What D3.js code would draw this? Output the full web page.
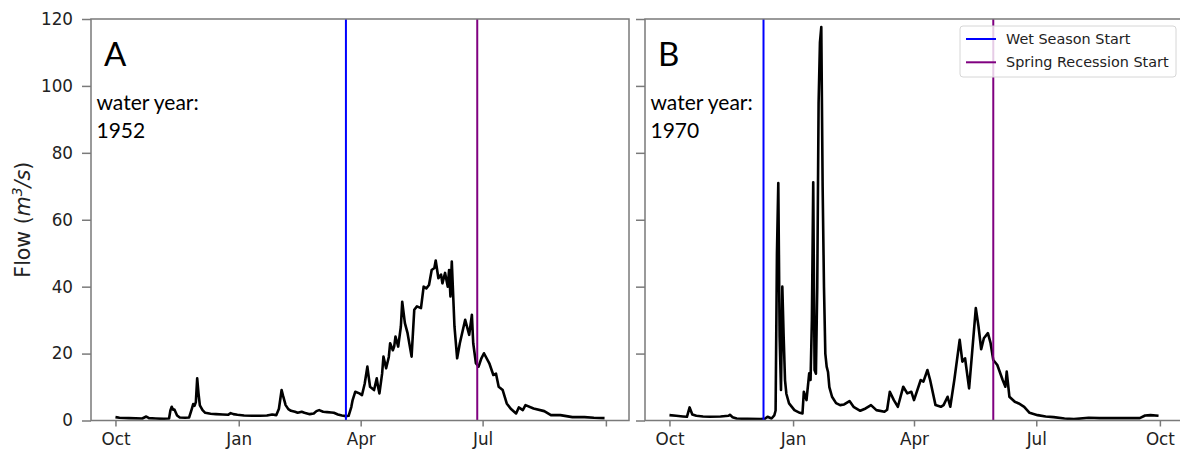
<!DOCTYPE html>
<html>
<head>
<meta charset="utf-8">
<script src="https://cdn.jsdelivr.net/npm/d3@7"></script>
<style>
  body { margin: 0; background: #fff; }
  svg { display: block; }
  .axis text { font-family: 'DejaVu Sans', sans-serif; font-size: 16.8px; fill: #222; }
  .axis path { display: none; }
  .axis line { stroke: #7a7a7a; stroke-width: 1.5; }
</style>
</head>
<body>
<svg></svg>
<script>
const panels = ['A', 'B'];
const waterYears = [1952, 1970];
const wetSeasonStart = ['1952-03-21', '1969-12-10'];
const springRecessionStart = ['1952-06-27', '1970-05-30'];
const yTicks = [0, 20, 40, 60, 80, 100, 120];
const legendLabels = ['Wet Season Start', 'Spring Recession Start'];

// day of water year (0 = Oct 1) and daily flow, m3/s
const daysA = [0, 3, 10, 20, 23, 25, 30, 36, 40, 41, 42, 43, 44, 46, 48, 52, 55, 57, 58, 59, 60, 61, 62, 63, 65, 67, 71, 75, 80, 84, 86, 88, 91, 96, 102, 108, 113, 117, 120, 122, 124, 125, 127, 129, 131, 134, 136, 139, 141, 145, 148, 150, 152, 155, 158, 161, 163, 166, 169, 172, 174, 176, 177, 179, 182, 184, 186, 188, 189, 190, 193, 195, 196, 197, 199, 200, 202, 204, 205, 207, 208, 209, 211, 213, 214, 216, 218, 221, 223, 225, 228, 230, 232, 234, 236, 238, 239, 241, 243, 244, 246, 248, 249, 250, 251, 253, 255, 257, 261, 264, 266, 267, 269, 271, 273, 275, 279, 282, 284, 286, 289, 292, 295, 299, 301, 304, 306, 312, 320, 325, 332, 341, 350, 357, 365];
const flowA = [1.0, 0.8, 0.7, 0.6, 1.2, 0.7, 0.6, 0.5, 0.6, 3.0, 4.1, 3.2, 3.3, 1.5, 0.9, 0.8, 0.9, 3.5, 4.9, 4.4, 5.5, 12.6, 8.0, 4.5, 3.1, 2.3, 2.0, 1.9, 1.8, 1.7, 2.2, 1.9, 1.7, 1.5, 1.4, 1.4, 1.5, 1.8, 1.6, 3.5, 9.1, 7.5, 4.6, 3.4, 2.9, 2.6, 2.3, 2.6, 2.3, 1.9, 2.1, 2.8, 3.1, 2.6, 2.5, 2.4, 2.3, 1.8, 1.5, 1.3, 1.4, 4.0, 6.1, 8.6, 8.1, 7.6, 11.0, 16.1, 13.0, 10.1, 9.1, 12.6, 10.0, 8.1, 14.0, 19.1, 15.6, 19.0, 23.1, 21.0, 22.1, 25.1, 22.1, 28.1, 35.5, 29.1, 26.1, 19.1, 33.1, 34.1, 33.6, 40.0, 39.5, 40.5, 45.0, 45.6, 47.8, 42.5, 43.6, 41.0, 44.1, 40.0, 45.0, 37.1, 47.5, 28.1, 18.6, 23.1, 30.1, 25.6, 31.6, 23.1, 17.1, 16.1, 18.5, 20.1, 17.1, 13.6, 14.0, 10.1, 9.1, 5.1, 3.5, 2.1, 3.9, 3.1, 4.6, 3.6, 2.8, 1.6, 1.6, 1.0, 1.0, 0.8, 0.7];

const daysB = [0, 5, 10, 13, 15, 17, 20, 25, 30, 38, 44, 45, 47, 50, 58, 68, 71, 73, 76, 78, 79, 80, 81, 82, 83, 84, 85, 86, 87, 89, 93, 97, 99, 100, 102, 104, 105, 106, 107, 108, 109, 110, 111, 112, 113, 114, 115, 116, 117, 118, 119, 121, 124, 127, 130, 134, 137, 142, 146, 150, 154, 160, 162, 164, 167, 170, 174, 177, 180, 182, 187, 189, 192, 194, 198, 202, 204, 207, 209, 212, 216, 218, 220, 223, 225, 228, 230, 232, 234, 237, 239, 241, 244, 248, 250, 251, 253, 257, 260, 264, 268, 274, 280, 286, 294, 301, 312, 320, 331, 340, 350, 354, 358, 364];
const flowB = [1.6, 1.4, 1.2, 1.1, 3.9, 1.8, 1.4, 1.2, 1.1, 1.2, 1.4, 1.7, 1.0, 0.6, 0.5, 0.4, 0.5, 1.1, 0.6, 1.5, 3.0, 50.0, 71.0, 25.0, 9.1, 40.0, 25.0, 12.1, 8.0, 5.1, 3.1, 2.3, 2.1, 8.6, 6.1, 14.1, 12.1, 30.0, 71.2, 15.1, 14.0, 40.0, 95.0, 113.0, 117.6, 70.0, 40.0, 20.0, 16.1, 14.5, 10.0, 7.1, 5.2, 4.6, 4.8, 5.8, 4.1, 2.9, 3.6, 4.6, 3.1, 2.6, 3.2, 8.6, 6.1, 4.1, 10.1, 8.1, 8.6, 6.1, 12.1, 11.6, 15.1, 12.1, 4.6, 4.1, 4.6, 7.1, 4.1, 12.1, 24.1, 17.6, 18.6, 9.6, 19.1, 33.6, 28.1, 21.3, 24.6, 26.1, 23.1, 18.1, 16.6, 12.1, 10.1, 14.6, 7.1, 5.6, 5.1, 4.1, 2.3, 1.6, 1.2, 1.0, 0.6, 0.4, 0.8, 0.7, 0.7, 0.7, 0.7, 1.5, 1.6, 1.4];

const days = [daysA, daysB];
const flows = [flowA, flowB];

const svg = d3.select('svg')
              .attr('width', 1180)
              .attr('height', 450);

const panelLeft = [91, 645];
const panelTop = 19;
const width = 538;
const height = 401.5;
const dayMs = 864e5;

const yScale = d3.scaleLinear()
                 .domain([0, 120])
                 .range([height, 0]);

panels.forEach((name, p) => {
    const wy = waterYears[p];
    const start = new Date(Date.UTC(wy - 1, 9, 1));
    const end = new Date(Date.UTC(wy, 8, 30));
    const pad = (end - start) * 0.05;

    const xScale = d3.scaleUtc()
                     .domain([new Date(+start - pad), new Date(+end + pad)])
                     .range([0, width]);

    const series = days[p].map((d, i) => ({ date: new Date(+start + d * dayMs), q: flows[p][i] }));

    const chart = svg.append('g')
                     .attr('transform', `translate(${panelLeft[p]},${panelTop})`);

    const tickDates = d3.utcMonth.every(3).range(start, new Date(Date.UTC(wy, 9, 2)));

    chart.append('g')
         .attr('class', 'axis')
         .attr('transform', `translate(0,${height})`)
         .call(d3.axisBottom(xScale)
                 .tickValues(tickDates)
                 .tickSize(6)
                 .tickPadding(7)
                 .tickFormat((d, i) => (p === 0 && i === tickDates.length - 1) ? '' : d3.utcFormat('%b')(d)));

    chart.append('g')
         .attr('class', 'axis')
         .call(d3.axisLeft(yScale)
                 .tickValues(yTicks)
                 .tickSize(9)
                 .tickPadding(9)
                 .tickFormat(p === 0 ? d3.format('d') : ''));

    // the flow line
    chart.append('path')
         .datum(series)
         .attr('fill', 'none')
         .attr('stroke', '#000')
         .attr('stroke-width', 2.6)
         .attr('stroke-linejoin', 'round')
         .attr('d', d3.line().x(d => xScale(d.date)).y(d => yScale(d.q)));

    // season markers
    [[wetSeasonStart[p], '#0000ff'], [springRecessionStart[p], '#800080']].forEach(([day, col]) => {
        const x = xScale(new Date(day + 'T00:00:00Z'));
        chart.append('line')
             .attr('x1', x).attr('x2', x)
             .attr('y1', 0).attr('y2', height)
             .attr('stroke', col)
             .attr('stroke-width', 2);
    });

    // frame
    chart.append('rect')
         .attr('width', width)
         .attr('height', height)
         .attr('fill', 'none')
         .attr('stroke', '#7a7a7a')
         .attr('stroke-width', 1.5);

    chart.append('text')
         .attr('x', 13)
         .attr('y', 46.5)
         .attr('font-family', 'Lato, sans-serif')
         .attr('font-size', 33)
         .attr('fill', '#000')
         .text(name);

    chart.append('text')
         .attr('x', 5.5)
         .attr('y', 91)
         .attr('font-family', 'Lato, sans-serif')
         .attr('font-size', 21)
         .attr('fill', '#000')
         .text('water year:');

    chart.append('text')
         .attr('x', 5.5)
         .attr('y', 119)
         .attr('font-family', 'Lato, sans-serif')
         .attr('font-size', 21)
         .attr('fill', '#000')
         .text(wy);

    if (p === 1) {
        const legend = chart.append('g')
                            .attr('transform', `translate(${960 - panelLeft[1]},${26 - panelTop})`);
        legend.append('rect')
              .attr('width', 216)
              .attr('height', 51)
              .attr('rx', 3)
              .attr('fill', '#fff')
              .attr('fill-opacity', 0.8)
              .attr('stroke', '#d6d6d6');
        legendLabels.forEach((lab, i) => {
            const y = 13 + i * 23.3;
            legend.append('line')
                  .attr('x1', 6).attr('x2', 36)
                  .attr('y1', y).attr('y2', y)
                  .attr('stroke', i === 0 ? '#0000ff' : '#800080')
                  .attr('stroke-width', 2);
            legend.append('text')
                  .attr('x', 46)
                  .attr('y', y)
                  .attr('dy', '0.35em')
                  .attr('font-family', 'DejaVu Sans, sans-serif')
                  .attr('font-size', 14.4)
                  .attr('fill', '#222')
                  .text(lab);
        });
    }
});

// y axis title
const yTitle = svg.append('text')
                  .attr('transform', `translate(30,${panelTop + height / 2}) rotate(-90)`)
                  .attr('text-anchor', 'middle')
                  .attr('font-family', 'DejaVu Sans, sans-serif')
                  .attr('font-size', 20.5)
                  .attr('fill', '#222');
yTitle.append('tspan').text('Flow (');
yTitle.append('tspan').attr('font-style', 'italic').text('m');
yTitle.append('tspan').attr('font-style', 'italic').attr('font-size', 14).attr('dy', -8).text('3');
yTitle.append('tspan').attr('font-style', 'italic').attr('dy', 8).text('/s');
yTitle.append('tspan').text(')');
</script>
</body>
</html>
